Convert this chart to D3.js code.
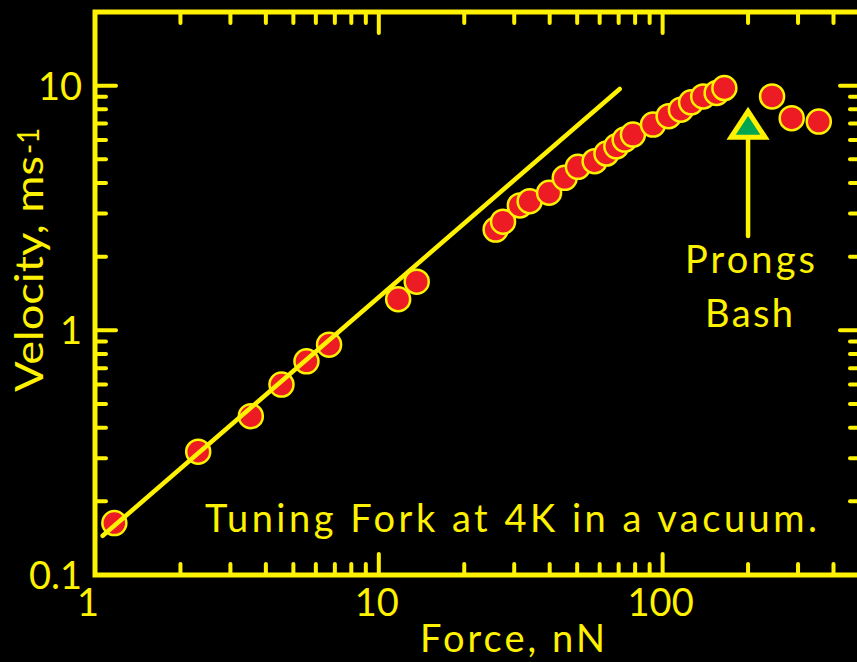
<!DOCTYPE html>
<html>
<head>
<meta charset="utf-8">
<script src="https://cdn.jsdelivr.net/npm/d3@7"></script>
<style>
  html, body { margin: 0; padding: 0; background: #000; }
  svg { display: block; }
  text { font-family: Lato, "Open Sans", sans-serif; fill: #FFF200; }
</style>
</head>
<body>
<svg id="chart" width="857" height="662"></svg>
<script>
// Measured tuning-fork response: drive force (nN) vs prong velocity (m/s)
const forceN = [1.17, 2.31, 3.54, 4.54, 5.56, 6.68, 11.7, 13.6, 25.8, 27.4,
                31.4, 34.0, 39.8, 45.2, 50.3, 57.6, 63.4, 68.7, 73.5, 78.6,
                92.5, 105, 116, 126, 139, 155, 165, 243, 285, 355];
const velocity = [0.163, 0.319, 0.446, 0.600, 0.747, 0.874, 1.34, 1.58, 2.58, 2.78,
                  3.24, 3.37, 3.65, 4.20, 4.66, 4.91, 5.28, 5.65, 6.02, 6.31,
                  6.93, 7.50, 7.98, 8.55, 9.04, 9.34, 9.78, 9.04, 7.36, 7.13];

// Linear (slope 1 on log-log) guide line
const fitForce = [1.064, 70.6];
const fitVelocity = [0.1446, 9.69];

// Point where the prongs start to collide
const bashForce = [200];
const bashVelocity = [6.69];

const xTickLabels = ["1", "10", "100"];
const yTickLabels = ["0.1", "1", "10"];

const YELLOW = "#FFF200", RED = "#ED1C24", GREEN = "#00A651";

const svg = d3.select("#chart");
const mLeft = 95, mRight = 861, mTop = 12, mBottom = 575;

const x = d3.scaleLog().domain([1, 500]).range([mLeft, mRight]);
const y = d3.scaleLog().domain([0.1, 20]).range([mBottom, mTop]);

// tick value generators
const xMajor = [1, 10, 100];
const xMinor = x.ticks().filter(v => !xMajor.includes(v) && v > 1 && v < 500);
const yMajor = [0.1, 1, 10];
const yMinor = y.ticks().filter(v => !yMajor.includes(v) && v > 0.1 && v < 20);

const axisG = svg.append("g").attr("stroke", YELLOW).attr("stroke-linecap", "round");

function drawTicks(vals, len, width, orient) {
  vals.forEach(v => {
    let x1, y1, x2, y2;
    if (orient === "bottom") { x1 = x2 = x(v); y1 = mBottom; y2 = mBottom - len; }
    if (orient === "top")    { x1 = x2 = x(v); y1 = mTop;    y2 = mTop + len; }
    if (orient === "left")   { y1 = y2 = y(v); x1 = mLeft;   x2 = mLeft + len; }
    if (orient === "right")  { y1 = y2 = y(v); x1 = mRight;  x2 = mRight - len; }
    axisG.append("line").attr("x1", x1).attr("y1", y1).attr("x2", x2).attr("y2", y2)
      .attr("stroke-width", width);
  });
}
drawTicks(xMinor, 11, 4, "bottom");
drawTicks(xMinor, 11, 4, "top");
drawTicks(xMajor.slice(1), 21, 4, "bottom");
drawTicks(xMajor.slice(1), 21, 4, "top");
drawTicks(yMinor, 11, 4, "left");
drawTicks(yMinor, 11, 4, "right");
drawTicks(yMajor.slice(1), 21, 4, "left");
drawTicks(yMajor.slice(1), 21, 4, "right");

// frame
axisG.append("rect")
  .attr("x", mLeft).attr("y", mTop)
  .attr("width", mRight - mLeft).attr("height", mBottom - mTop)
  .attr("fill", "none").attr("stroke-width", 5).attr("stroke-linecap", "square");

// tick labels
svg.append("g").selectAll("text").data(xMajor).join("text")
  .attr("x", (d, i) => x(d) + (i === 0 ? -7 : -2))
  .attr("y", 616)
  .attr("text-anchor", "middle")
  .attr("font-size", 38)
  .text((d, i) => xTickLabels[i]);

svg.append("g").selectAll("text").data(yMajor).join("text")
  .attr("x", 82)
  .attr("y", d => y(d) + 14)
  .attr("text-anchor", "end")
  .attr("font-size", 38)
  .text((d, i) => yTickLabels[i]);

// axis titles
svg.append("text")
  .attr("x", 420).attr("y", 652)
  .attr("font-size", 38)
  .attr("textLength", 185).attr("lengthAdjust", "spacing")
  .text("Force, nN");

// vertical title: main part plus raised exponent
svg.append("text")
  .attr("transform", "translate(43,392) rotate(-90)")
  .attr("font-size", 38)
  .attr("textLength", 236).attr("lengthAdjust", "spacingAndGlyphs")
  .text("Velocity, ms");
svg.append("text")
  .attr("transform", "translate(39,154) rotate(-90)")
  .attr("font-size", 30)
  .attr("textLength", 26).attr("lengthAdjust", "spacingAndGlyphs")
  .text("-1");

// data points
const pts = forceN.map((f, i) => ({ f, v: velocity[i] }));
svg.append("g").selectAll("circle").data(pts).join("circle")
  .attr("cx", d => x(d.f))
  .attr("cy", d => y(d.v))
  .attr("r", 12)
  .attr("fill", RED)
  .attr("stroke", YELLOW)
  .attr("stroke-width", 2.5);

// guide line
const line = d3.line().x(d => x(d[0])).y(d => y(d[1]));
svg.append("path")
  .datum(fitForce.map((f, i) => [f, fitVelocity[i]]))
  .attr("d", line)
  .attr("fill", "none")
  .attr("stroke", YELLOW)
  .attr("stroke-width", 4.5)
  .attr("stroke-linecap", "round");

// "Prongs Bash" marker and arrow
const bx = x(bashForce[0]), by = y(bashVelocity[0]);
svg.append("line")
  .attr("x1", bx).attr("y1", by + 10)
  .attr("x2", bx).attr("y2", 236)
  .attr("stroke", YELLOW).attr("stroke-width", 4.5).attr("stroke-linecap", "round");
svg.append("path")
  .attr("d", `M${bx},${by - 17} L${bx + 17},${by + 9} L${bx - 17},${by + 9} Z`)
  .attr("fill", GREEN)
  .attr("stroke", YELLOW)
  .attr("stroke-width", 5)
  .attr("stroke-linejoin", "miter");

svg.append("text").attr("x", 685).attr("y", 273)
  .attr("font-size", 38).attr("textLength", 130).attr("lengthAdjust", "spacing")
  .text("Prongs");
svg.append("text").attr("x", 705).attr("y", 327)
  .attr("font-size", 38).attr("textLength", 88).attr("lengthAdjust", "spacing")
  .text("Bash");

svg.append("text").attr("x", 205).attr("y", 532)
  .attr("font-size", 38).attr("textLength", 612).attr("lengthAdjust", "spacing")
  .text("Tuning Fork at 4K in a vacuum.");
</script>
</body>
</html>
